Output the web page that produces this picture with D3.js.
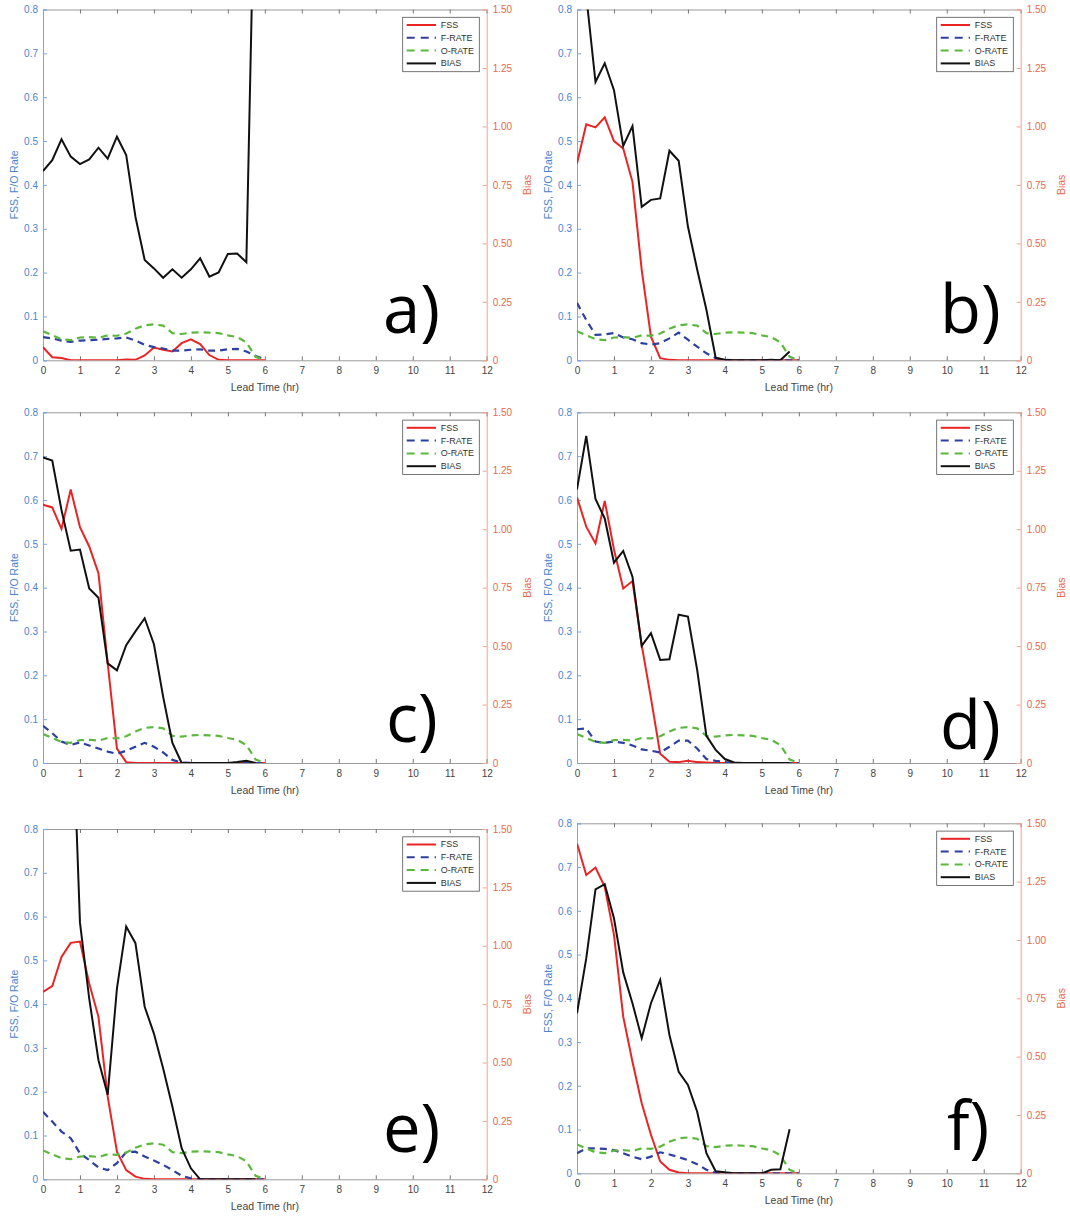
<!DOCTYPE html>
<html><head><meta charset="utf-8">
<script src="https://cdn.jsdelivr.net/npm/d3@7"></script>
<style>
body{margin:0;background:#fff;}
svg{display:block;font-family:"Liberation Sans",Arial,sans-serif;}
</style>
</head><body>
<svg id="chart" width="1070" height="1217"></svg>
<script>
// ---------------- DATA ----------------
const leadTimes = [0,0.25,0.5,0.75,1,1.25,1.5,1.75,2,2.25,2.5,2.75,3,3.25,3.5,3.75,4,4.25,4.5,4.75,5,5.25,5.5,5.75,6];
const biasTimes = leadTimes.slice(0, 24);
const xTickValues = [0,1,2,3,4,5,6,7,8,9,10,11,12];
const xTickLabels = ["0","1","2","3","4","5","6","7","8","9","10","11","12"];
const leftTickValues = [0,0.1,0.2,0.3,0.4,0.5,0.6,0.7,0.8];
const leftTickLabels = ["0","0.1","0.2","0.3","0.4","0.5","0.6","0.7","0.8"];
const rightTickValues = [0,0.25,0.5,0.75,1,1.25,1.5];
const rightTickLabels = ["0","0.25","0.50","0.75","1.00","1.25","1.50"];
const seriesNames = ["FSS","F-RATE","O-RATE","BIAS"];
const panelLabels = ["a)","b)","c)","d)","e)","f)"];

// observed rate (same in every panel)
const oRate = [0.066,0.057,0.048,0.046,0.052,0.053,0.051,0.057,0.056,0.061,0.072,0.080,0.082,0.079,0.062,0.060,0.063,0.064,0.063,0.062,0.057,0.053,0.041,0.008,0.000];

// panel a
const fssA   = [0.030,0.007,0.005,0,0,0,0,0,0,0.002,0.001,0.011,0.029,0.024,0.020,0.039,0.048,0.037,0.012,0.001,0,0,0,0,0];
const frateA = [0.053,0.050,0.045,0.042,0.045,0.046,0.047,0.049,0.050,0.052,0.045,0.035,0.030,0.027,0.022,0.022,0.024,0.025,0.022,0.022,0.025,0.026,0.020,0.010,0.002];
const biasA  = [0.809,0.856,0.945,0.871,0.839,0.859,0.909,0.862,0.956,0.878,0.614,0.429,0.393,0.353,0.389,0.353,0.389,0.436,0.358,0.376,0.455,0.457,0.419,2.300];
// panel b
const fssB   = [0.449,0.538,0.531,0.554,0.500,0.483,0.407,0.206,0.054,0.005,0.001,0,0,0,0,0,0,0,0,0,0,0,0,0,0];
const frateB = [0.131,0.092,0.058,0.059,0.062,0.052,0.048,0.039,0.036,0.039,0.050,0.063,0.047,0.031,0.016,0.005,0.001,0,0,0,0,0,0,0,0];
const biasB  = [1.800,1.560,1.190,1.270,1.155,0.917,1.001,0.656,0.686,0.692,0.896,0.853,0.572,0.388,0.216,0.011,0.002,0,0,0,0,0.002,0,0.038];
// panel c
const fssC   = [0.589,0.583,0.534,0.624,0.538,0.494,0.433,0.227,0.033,0.002,0,0,0,0,0,0,0,0,0,0,0,0,0,0,0];
const frateC = [0.085,0.068,0.049,0.041,0.047,0.040,0.033,0.026,0.021,0.028,0.037,0.046,0.037,0.024,0.007,0.001,0,0,0,0,0,0,0,0,0];
const biasC  = [1.307,1.294,1.082,0.908,0.913,0.746,0.707,0.426,0.396,0.504,0.563,0.619,0.508,0.283,0.086,0,0,0,0,0,0,0.004,0.010,0];
// panel d
const fssD   = [0.606,0.539,0.501,0.598,0.487,0.398,0.415,0.269,0.148,0.021,0.003,0.002,0.005,0.002,0.001,0,0,0,0,0,0,0,0,0,0];
const frateD = [0.077,0.079,0.049,0.046,0.049,0.046,0.040,0.031,0.028,0.024,0.037,0.051,0.051,0.033,0.009,0.005,0.002,0,0,0,0,0,0,0,0];
const biasD  = [1.170,1.399,1.129,1.046,0.857,0.907,0.797,0.501,0.555,0.441,0.444,0.634,0.626,0.398,0.116,0.056,0.017,0.002,0,0,0,0,0,0];
// panel e
const fssE   = [0.428,0.441,0.508,0.540,0.543,0.447,0.371,0.189,0.063,0.021,0.006,0.001,0,0,0,0,0,0,0,0,0,0,0,0,0];
const frateE = [0.154,0.132,0.109,0.094,0.059,0.044,0.027,0.021,0.037,0.062,0.063,0.052,0.043,0.033,0.021,0.008,0.002,0,0,0,0,0,0,0,0];
const biasE  = [3.200,2.900,2.600,2.200,1.099,0.774,0.510,0.362,0.818,1.082,1.011,0.739,0.624,0.474,0.311,0.133,0.047,0,0,0,0,0,0,0];
// panel f
const fssF   = [0.754,0.682,0.699,0.655,0.545,0.358,0.255,0.160,0.088,0.027,0.008,0.002,0,0,0,0,0,0,0,0,0,0,0,0,0];
const frateF = [0.046,0.057,0.057,0.056,0.053,0.046,0.038,0.032,0.038,0.048,0.043,0.037,0.030,0.021,0.008,0.001,0,0,0,0,0,0,0,0,0];
const biasF  = [0.686,0.921,1.217,1.239,1.093,0.861,0.729,0.579,0.729,0.829,0.593,0.435,0.379,0.264,0.086,0.009,0.004,0,0,0,0,0.015,0.017,0.189];

// ---------------- LAYOUT / STYLE ----------------
const panels = [
  {left:43,  right:486.7,  top:9.5,   bottom:360.3,  lx:383, ly:333,  fss:fssA, frate:frateA, bias:biasA},
  {left:577, right:1020.7, top:9.5,   bottom:360.3,  lx:940, ly:333,  fss:fssB, frate:frateB, bias:biasB},
  {left:43,  right:486.7,  top:412.3, bottom:763,    lx:386, ly:742,  fss:fssC, frate:frateC, bias:biasC},
  {left:577, right:1020.7, top:412.3, bottom:763,    lx:940, ly:749,  fss:fssD, frate:frateD, bias:biasD},
  {left:43,  right:486.7,  top:829,   bottom:1179.3, lx:383, ly:1152, fss:fssE, frate:frateE, bias:biasE},
  {left:577, right:1020.7, top:823.3, bottom:1173.3, lx:947, ly:1150, fss:fssF, frate:frateF, bias:biasF}
];
const colors = {fss:"#ea2424", frate:"#2d40a0", orate:"#5cb83c", bias:"#111111"};
const leftColor = "#4a84d0", leftLine = "#7ea7df";
const rightColor = "#ea6a4a", rightLine = "#f2a48f";
const frameColor = "#9a9a9a";
const dash = "7,5";

const svg = d3.select("#chart");

panels.forEach((p, i) => {
  const x = d3.scaleLinear().domain([0, 12]).range([p.left, p.right]);
  const yL = d3.scaleLinear().domain([0, 0.8]).range([p.bottom, p.top]);
  const yR = d3.scaleLinear().domain([0, 1.5]).range([p.bottom, p.top]);
  const g = svg.append("g");

  const clipId = "clip" + i;
  svg.append("clipPath").attr("id", clipId).append("rect")
    .attr("x", p.left).attr("y", p.top).attr("width", p.right - p.left).attr("height", p.bottom - p.top);

  // top axis (ticks only)
  const top = g.append("g").attr("transform", `translate(0,${p.top})`)
    .call(d3.axisTop(x).tickValues(xTickValues).tickSize(-4).tickFormat(""));
  top.select(".domain").attr("stroke", frameColor);
  top.selectAll(".tick line").attr("stroke", "#777");

  // bottom axis
  const bot = g.append("g").attr("transform", `translate(0,${p.bottom})`)
    .call(d3.axisBottom(x).tickValues(xTickValues).tickSize(-4).tickPadding(7)
      .tickFormat((d, k) => xTickLabels[k]));
  bot.select(".domain").attr("stroke", frameColor);
  bot.selectAll(".tick line").attr("stroke", "#777");
  bot.selectAll(".tick text").attr("fill", "#444").attr("font-size", 10);

  // left axis
  const la = g.append("g").attr("transform", `translate(${p.left},0)`)
    .call(d3.axisLeft(yL).tickValues(leftTickValues).tickSize(-4).tickPadding(5)
      .tickFormat((d, k) => leftTickLabels[k]));
  la.select(".domain").attr("stroke", leftLine);
  la.selectAll(".tick line").attr("stroke", leftLine);
  la.selectAll(".tick text").attr("fill", leftColor).attr("font-size", 10);

  // right axis
  const ra = g.append("g").attr("transform", `translate(${p.right},0)`)
    .call(d3.axisRight(yR).tickValues(rightTickValues).tickSize(-4).tickPadding(6)
      .tickFormat((d, k) => rightTickLabels[k]));
  ra.select(".domain").attr("stroke", rightLine);
  ra.selectAll(".tick line").attr("stroke", rightLine);
  ra.selectAll(".tick text").attr("fill", rightColor).attr("font-size", 10);

  // axis titles
  g.append("text").attr("x", (p.left + p.right) / 2).attr("y", p.bottom + 31)
    .attr("text-anchor", "middle").attr("font-size", 10.5).attr("fill", "#444").text("Lead Time (hr)");
  g.append("text").attr("transform", `translate(${p.left - 29.5},${(p.top + p.bottom) / 2}) rotate(-90)`)
    .attr("text-anchor", "middle").attr("dominant-baseline", "central")
    .attr("font-size", 10.5).attr("fill", leftColor).text("FSS, F/O Rate");
  g.append("text").attr("transform", `translate(${p.right + 40},${(p.top + p.bottom) / 2}) rotate(-90)`)
    .attr("text-anchor", "middle").attr("dominant-baseline", "central")
    .attr("font-size", 10.5).attr("fill", rightColor).text("Bias");

  // data lines
  const lines = g.append("g").attr("clip-path", `url(#${clipId})`).attr("fill", "none");
  const lineL = d3.line().x((d, k) => x(leadTimes[k])).y(d => yL(d));
  const lineR = d3.line().x((d, k) => x(biasTimes[k])).y(d => yR(d));
  lines.append("path").attr("d", lineL(p.fss)).attr("stroke", colors.fss).attr("stroke-width", 2);
  lines.append("path").attr("d", lineL(p.frate)).attr("stroke", colors.frate).attr("stroke-width", 2.2).attr("stroke-dasharray", dash);
  lines.append("path").attr("d", lineL(oRate)).attr("stroke", colors.orate).attr("stroke-width", 2.2).attr("stroke-dasharray", dash);
  lines.append("path").attr("d", lineR(p.bias)).attr("stroke", colors.bias).attr("stroke-width", 2);

  // legend
  const lgX = p.right - 84, lgY = p.top + 7.8;
  const lg = g.append("g").attr("transform", `translate(${lgX},${lgY})`);
  lg.append("rect").attr("width", 76.6).attr("height", 54.4).attr("fill", "#fff").attr("stroke", "#555").attr("stroke-width", 0.8);
  const legColors = [colors.fss, colors.frate, colors.orate, colors.bias];
  const legDash = [null, dash, dash, null];
  seriesNames.forEach((name, k) => {
    const yy = 7.7 + k * 12.8;
    lg.append("line").attr("x1", 4).attr("x2", 33.3).attr("y1", yy).attr("y2", yy)
      .attr("stroke", legColors[k]).attr("stroke-width", 2)
      .attr("stroke-dasharray", legDash[k] ? "8,6" : null);
    lg.append("text").attr("x", 38).attr("y", yy).attr("dominant-baseline", "central")
      .attr("font-size", 9).attr("fill", "#333").text(name);
  });

  // panel label
  g.append("text").attr("x", p.lx).attr("y", p.ly)
    .attr("font-family", "'Open Sans', 'DejaVu Sans', sans-serif")
    .attr("font-size", 67).attr("fill", "#000").text(panelLabels[i]);
});
</script>
</body></html>
